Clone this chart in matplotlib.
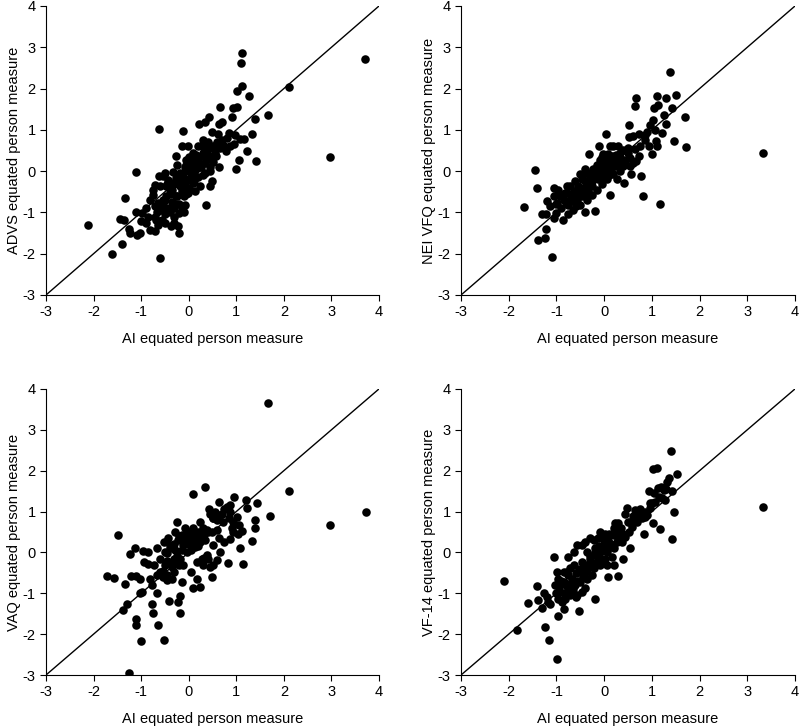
import matplotlib.pyplot as plt

plt.rcParams['font.family'] = ['Liberation Sans', 'DejaVu Sans']
plt.rcParams['axes.unicode_minus'] = False

# ---- ADVS vs AI ----
ai_advs = [3.70, 2.96, 2.11, 1.67, 1.40, 1.41, 1.33, 1.23, 1.27, 1.12, 1.10, 1.12, 1.01, 1.02, 0.93, 0.90,
           1.07, 1.16, 1.00, 1.06, 0.65, 0.69, 0.64, 0.22, 0.43, 0.34, 0.48, 0.62, 0.85, 0.97, 0.74, 0.55,
           0.86, 0.79, 0.63, 0.51, 0.48, 0.44, 0.37, -0.62, -0.12, -1.10, -1.34, -2.11, -1.61, -1.41, -0.61,
           -1.45, -1.36, -1.25, -1.24, -1.08, -1.03, -1.11, -0.99, -1.01, -0.90, -0.82, -0.70, -0.66, -0.57,
           -0.50, -0.38, -0.22, -0.21, -0.21, -0.15, -0.62, -0.55, -0.71, -0.82, -0.75, -0.64, -0.68,
           -0.26, -0.15, -0.01, 0.16, 0.27, 0.37, 0.20, 0.09, -0.08, -0.33, -0.26, -0.19, -0.40, -0.47,
           -0.33, -0.08, -0.01, 0.13, 0.23, 0.30, 0.23, 0.06, -0.05, -0.15, -0.26, -0.47, -0.54, -0.19,
           -0.05, 0.02, 0.13, 0.37, 0.44, 0.58, 0.44, 0.30, 0.51, 0.09, -0.08, -0.33, -0.43, -0.50,
           -0.30, -0.10, 0.00, -0.20, -0.40, -0.30, -0.45, -0.55, 0.15, 0.30, 0.40, 0.55, 0.70, 0.80,
           0.95, 0.20, -0.05, 0.05, 0.12, -0.12,
           -0.75, -0.70, -0.60, -0.60, -0.50, -0.50, -0.45, -0.40, -0.35, -0.35, -0.30, -0.25, -0.20,
           -0.15, -0.10, -0.05, 0.00, 0.05, 0.10, 0.15, 0.20, 0.25, 0.35, 0.40, 0.30, 0.20, 0.10, 0.00,
           -0.05, -0.25, -0.10, -0.30, -0.65, -0.85, -0.90, -0.70, 0.60, 0.65, 0.45, 0.35]
advs = [2.71, 0.34, 2.03, 1.35, 1.26, 0.25, 0.89, 0.48, 1.82, 2.87, 2.62, 2.07, 1.95, 1.55, 1.53, 1.30,
        0.77, 0.77, 0.05, 0.27, 1.56, 1.20, 1.14, 1.14, 1.32, 1.20, 0.94, 0.90, 0.92, 0.88, 0.60, 0.44,
        0.60, 0.48, 0.09, 0.23, -0.25, -0.36, -0.83, 1.02, 0.96, -0.01, -0.65, -1.31, -2.00, -1.76, -2.11,
        -1.16, -1.18, -1.40, -1.50, -1.55, -1.50, -0.98, -1.02, -1.20, -1.26, -1.42, -1.46, -0.98, -1.18,
        -1.26, -1.34, -1.34, -1.50, -1.02, -0.86, -0.11, -0.11, -0.33, -0.69, -0.57, -0.77, -1.18,
        0.36, 0.60, 0.60, 0.40, 0.60, 0.48, 0.19, 0.11, 0.11, -0.01, -0.17, -0.37, -0.45, -0.61,
        -0.77, -0.82, -0.53, -0.49, -0.37, -0.09, 0.11, -0.13, -0.25, -0.49, -0.61, -0.37, -0.69, -0.05,
        0.27, 0.03, -0.13, 0.27, 0.11, 0.36, 0.36, 0.36, 0.60, -0.29, -0.37, -0.29, -0.21, -0.05,
        -0.30, -0.60, -0.40, -0.80, -1.00, -1.10, -0.90, -0.85, 0.30, 0.45, 0.55, 0.62, 0.75, 0.80,
        0.65, -0.15, 0.00, 0.25, -0.25, -0.15,
        -0.45, -0.85, -0.35, -0.95, -0.70, -1.05, -0.30, -0.55, -0.45, -0.75, -0.90, -0.60, -0.25,
        -0.35, -0.45, -0.55, -0.20, -0.05, 0.15, 0.05, 0.30, 0.10, 0.20, 0.70, 0.75, 0.60, 0.45, 0.35,
        0.15, 0.15, -1.00, -1.25, -1.30, -1.10, -0.90, -1.10, 0.70, 0.55, 0.00, -0.05]

# ---- NEI VFQ vs AI ----
ai_nei = [3.32, 1.70, 1.71, 1.47, 1.38, 1.51, 1.29, 1.42, 1.26, 1.29, 1.22, 1.10, 1.12, 1.05, 1.16, 0.95,
          1.03, 1.07, 1.01, 0.93, 1.09, 1.10, 0.67, 0.65, 0.53, 0.53, 0.61, 0.72, 0.86, 0.67, 0.78, 0.82,
          0.56, 0.42, 0.49, 0.54, 0.65, 0.75, 0.04, -0.10, -0.32, -1.45, -1.41, -1.69, -1.38, -1.25,
          -1.22, -1.09, -1.31, -1.22, -1.20, -1.06, -1.01, -1.06, -0.96, -0.87, -0.75, -0.65, -0.58,
          -0.41, -0.19, 0.12,
          -0.92, -0.85, -0.78, -0.71, -0.64, -0.54, -0.47, -0.40, -0.37, -0.30, -0.23, -0.16, -0.09,
          -0.02, 0.02, 0.09, 0.16, 0.19, 0.30, 0.33, 0.23, 0.16, 0.05, -0.05, -0.16, -0.26, -0.37,
          -0.47, -0.51, -0.65, -0.75, -0.82, -0.78, -0.61, -0.51, -0.40, -0.26, -0.19, -0.12, -0.05,
          0.02, 0.09, 0.19, 0.26, 0.33, 0.40, 0.44, 0.37, 0.26, -0.02, 0.09, 0.12, -0.37, -0.33,
          -0.44, -1.06, -0.99, -1.13, 0.54, 0.61, 0.72,
          -0.80, -0.70, -0.60, -0.55, -0.45, -0.35, -0.30, -0.20, -0.15, -0.10, -0.05, 0.00, 0.05,
          0.10, 0.15, 0.20, 0.25, 0.10, -0.05, 0.00, -0.25, -0.40, -0.60, -0.90, -1.00, 0.35, 0.40,
          0.50, 0.30, 0.90, 0.85]
nei = [0.43, 1.32, 0.58, 0.74, 2.39, 1.85, 1.76, 1.54, 1.35, 1.14, 0.92, 1.83, 1.60, 1.53, -0.79, 1.11,
       1.24, 1.00, 0.41, 0.61, 0.73, 0.61, 1.77, 1.57, 1.11, 0.83, 0.85, 0.89, 0.87, 0.24, -0.11, -0.61,
       -0.06, -0.28, 0.45, 0.32, 0.53, 0.61, 0.89, 0.61, 0.42, 0.02, -0.41, -0.87, -1.68, -1.62,
       -1.40, -2.07, -1.03, -1.04, -0.73, -1.14, -1.01, -0.41, -0.46, -1.18, -1.05, -0.93, -0.69,
       -0.99, -0.96, -0.59,
       -0.61, -0.69, -0.53, -0.36, -0.49, -0.36, -0.20, -0.24, -0.04, -0.12, 0.04, 0.16, 0.28,
       0.12, 0.00, 0.20, 0.36, 0.61, 0.61, 0.45, 0.12, -0.04, -0.20, -0.32, -0.45, -0.57, -0.69,
       -0.61, -0.81, -0.73, -0.81, -0.53, -0.36, -0.24, -0.08, 0.04, -0.24, -0.08, -0.20, -0.08,
       0.16, 0.04, -0.08, -0.20, 0.00, 0.12, 0.28, 0.24, 0.28, 0.41, 0.41, 0.61, -0.24, -0.49,
       -0.41, -0.61, -0.77, -0.85, 0.12, 0.20, 0.36,
       -0.75, -0.60, -0.60, -0.50, -0.45, -0.35, -0.20, -0.15, -0.05, 0.05, -0.10, 0.10, 0.25,
       -0.10, 0.10, 0.25, 0.40, 0.30, 0.35, -0.15, -0.35, -0.55, -0.85, -0.90, -0.80, 0.30, 0.50,
       0.55, 0.15, 0.95, 0.75]

# ---- VAQ vs AI ----
ai_vaq = [1.66, 2.11, 2.97, 3.73, 1.70, 1.43, 1.40, 1.40, 1.34, 1.15, 1.21, 1.22, 0.96, 1.12, 1.03, 1.08,
          0.82, 0.35, 0.08, 0.42, 0.64, 0.80, 0.87, 0.73, 0.59, -1.48, -1.72, -1.57, -1.35, -1.39, -1.29,
          -1.11, -1.11, -1.01, -0.76, -0.78, -0.64, -0.53, -1.25, -0.66, -0.41, -0.19, -0.18, -0.22,
          -1.02, -0.99, -1.13, -1.23, -0.97, -0.85, -0.95, -0.85, -1.22, -1.11, -1.02, -0.81, -0.78,
          -0.67, -0.55, -0.46, -0.15, 0.04, 0.09, 0.24, 0.17, 0.32, 0.39, 0.45, 0.49, 0.59, 0.66, 0.74,
          0.87, 0.63, 0.49,
          -0.67, -0.60, -0.53, -0.50, -0.46, -0.39, -0.36, -0.32, -0.29, -0.25, -0.22, -0.15, -0.11,
          -0.08, -0.04, -0.01, 0.03, 0.06, 0.10, 0.13, 0.17, 0.20, 0.24, 0.31, 0.38, -0.18, -0.11,
          -0.29, -0.43, -0.60, -0.74, -0.32, -0.04, 0.17, 0.27, 0.52, 0.66, 0.24, 0.52, 0.94, 1.01,
          1.05, 0.94, 0.87,
          -0.50, -0.45, -0.40, -0.35, -0.30, -0.25, -0.20, -0.15, -0.10, -0.05, 0.00, 0.05, 0.10,
          0.15, 0.20, 0.25, 0.30, 0.35, 0.40, 0.50, 0.55, 0.45, 0.70, 0.75, 0.85, -0.55, -0.45,
          -0.35, -0.20, 0.40, 0.50, 0.30, 0.60, 0.90]
vaq = [3.66, 1.50, 0.67, 1.00, 0.90, 1.20, 0.79, 0.60, 0.29, -0.29, 1.28, 1.08, 1.35, 0.52, 0.46, 0.11,
       -0.27, 1.61, 1.42, 1.06, 1.24, 1.12, 1.00, 0.75, 0.79, 0.42, -0.58, -0.62, -0.77, -1.41, -1.26,
       -1.62, -1.78, -2.17, -1.49, -1.26, -1.78, -2.15, -2.96, -1.00, -1.18, -1.07, -1.49, -1.21,
       -1.00, -0.96, 0.10, -0.05, 0.04, 0.02, -0.23, -0.29, -0.57, -0.57, -0.64, -0.64, -0.80,
       -0.55, -0.60, -0.68, -0.72, -0.47, -0.88, -0.84, -0.64, -0.13, -0.07, -0.35, -0.60, -0.19,
       0.02, 0.26, 0.33, 0.34, 0.51,
       0.10, -0.15, 0.26, -0.31, -0.02, 0.18, -0.23, -0.47, 0.51, 0.75, 0.30, 0.42, 0.18,
       0.59, 0.34, 0.51, 0.26, 0.42, 0.59, 0.14, 0.38, 0.51, 0.26, 0.42, 0.55, -0.15, -0.31,
       0.06, 0.34, -0.47, -0.31, -0.15, 0.02, -0.23, -0.15, 0.83, 0.91, 0.75, 0.18, 0.75, 0.87,
       0.67, 0.51, 1.16,
       0.00, -0.20, 0.10, -0.35, 0.20, -0.10, 0.40, 0.05, 0.25, 0.45, 0.20, 0.05, 0.30,
       0.45, 0.15, 0.40, 0.60, 0.30, 0.50, 0.85, 1.00, 0.95, 0.95, 1.05, 0.85, -0.45, -0.55,
       -0.65, -0.30, -0.15, -0.30, -0.30, 0.55, 0.60]

# ---- VF-14 vs AI ----
ai_vf14 = [3.33, 1.40, 1.53, 1.42, 1.35, 1.32, 1.46, 1.42, 1.18, 1.28, 1.21, 1.11, 1.02, 0.93, 1.13, 1.25,
           1.00, 1.07, 1.02, 0.84, 0.86, 0.76, 0.65, 0.62, 0.55, 0.48, 0.44, 0.30, 0.23, 0.55, 0.39, 0.28,
           0.09, 0.20, -2.09, -1.82, -1.59, -1.41, -1.38, -1.31, -1.27, -1.20, -1.17, -1.13, -1.24, -1.15,
           -0.98, -0.96, -0.85, -0.52, -0.19, -1.06, -0.76, -0.98,
           -1.03, -0.96, -0.92, -0.85, -0.82, -0.78, -0.75, -0.71, -0.68, -0.64, -0.61, -0.57, -0.54,
           -0.50, -0.47, -0.43, -0.47, -0.40, -0.36, -0.33, -0.29, -0.26, -0.22, -0.19, -0.15, -0.12,
           -0.08, -0.05, -0.01, 0.02, 0.06, 0.09, 0.13, 0.16, 0.20, 0.27, 0.30, 0.37, 0.44, 0.51, 0.58,
           0.69, 0.79, 0.90, 0.97, -0.64, -0.57, -0.71, -0.85, -0.36, -0.40, -0.47, -0.96, -0.89,
           -0.08, 0.02, 0.06, -0.29, -0.22, 0.20, -0.08,
           -0.95, -0.90, -0.80, -0.75, -0.70, -0.65, -0.60, -0.55, -0.50, -0.45, -0.40, -0.35, -0.30,
           -0.25, -0.20, -0.15, -0.10, -0.05, 0.00, 0.05, 0.10, 0.15, 0.20, 0.25, 0.30, 0.35, 0.40,
           0.50, 0.60, 0.70, 0.75, 0.85, 0.95, 1.05, 1.15, 1.20, 1.30, -1.00, -0.85, -0.60]
vf14 = [1.12, 2.48, 1.92, 1.50, 1.81, 1.73, 1.00, 0.33, 0.56, 1.28, 1.32, 2.07, 2.03, 1.50, 1.58, 1.53,
        1.20, 1.24, 0.73, 0.46, 0.87, 1.00, 1.04, 0.87, 0.75, 1.08, 0.95, 0.73, 0.71, 0.11, -0.15, -0.58,
        -0.61, -0.31, -0.70, -1.90, -1.25, -0.82, -1.17, -1.35, -1.00, -1.08, -1.21, -1.27, -1.82, -2.15,
        -2.61, -1.55, -1.39, -1.43, -1.14, -0.12, -0.12, -0.49,
        -0.80, -0.64, -0.96, -0.72, -1.13, -0.47, -0.88, -1.04, -0.64, -0.31, -0.80, -1.04, -0.47,
        -0.72, -0.23, -0.55, 0.18, 0.26, 0.02, -0.31, -0.15, -0.55, -0.39, 0.10, -0.23, 0.34,
        0.02, -0.15, 0.18, 0.46, 0.02, 0.30, 0.14, -0.11, 0.42, 0.26, 0.51, 0.26, 0.38, 0.51, 0.63,
        0.75, 0.83, 0.91, 1.08, 0.02, 0.18, -0.39, -0.47, -0.64, -0.88, -0.96, -1.13, -1.21,
        -0.31, -0.15, -0.31, 0.34, 0.30, 0.59, 0.51,
        -0.85, -0.70, -0.80, -0.55, -0.75, -0.90, -0.50, -0.70, -0.40, -0.60, -0.30, -0.45, -0.10,
        -0.25, 0.00, -0.10, 0.15, 0.05, 0.30, 0.15, 0.45, 0.20, 0.10, 0.45, 0.30, 0.60, 0.45,
        0.75, 0.90, 0.85, 1.05, 1.00, 1.20, 1.45, 1.35, 1.60, 1.55, -1.00, -1.00, -1.10]

panels = [
    (ai_advs, advs, "ADVS equated person measure", [0.0575, 0.5948, 0.4163, 0.397]),
    (ai_nei, nei, "NEI VFQ equated person measure", [0.5763, 0.5948, 0.4175, 0.397]),
    (ai_vaq, vaq, "VAQ equated person measure", [0.0575, 0.0728, 0.4163, 0.393]),
    (ai_vf14, vf14, "VF-14 equated person measure", [0.5763, 0.0728, 0.4175, 0.393]),
]

fig = plt.figure(figsize=(8, 7.28), dpi=100)
for x, y, ylab, pos in panels:
    ax = fig.add_axes(pos)
    ax.plot([-3, 4], [-3, 4], color="black", linewidth=1)
    ax.scatter(x, y, s=38, color="black", linewidths=0, zorder=3)
    ax.set_xlim(-3, 4); ax.set_ylim(-3, 4)
    ax.set_xticks(range(-3, 5)); ax.set_yticks(range(-3, 5))
    ax.spines["top"].set_visible(False); ax.spines["right"].set_visible(False)
    ax.tick_params(direction="out", length=4, labelsize=10.5)
    ax.set_xlabel("AI equated person measure", fontsize=10.5, labelpad=9)
    ax.set_ylabel(ylab, fontsize=10.5, labelpad=1)

plt.savefig("out.png", dpi=100)
